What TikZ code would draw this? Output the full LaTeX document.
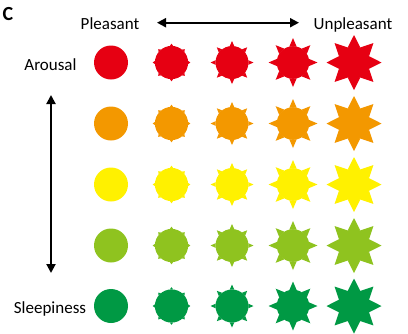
\documentclass[tikz,border=0pt]{standalone}
\usepackage{fontspec}
\setmainfont{Carlito}
\usetikzlibrary{arrows.meta}

\definecolor{moodred}{HTML}{E60012}
\definecolor{moodorange}{HTML}{F39800}
\definecolor{moodyellow}{HTML}{FFF100}
\definecolor{moodlime}{HTML}{8FC31F}
\definecolor{moodgreen}{HTML}{009944}

% spiky ball: #1 centre, #2 colour, #3 body radius, #4 spike tip radius, #5 spike half-angle
\newcommand\spikyball[5]{%
  \begin{scope}[shift={#1}]
    \fill[#2] (0,0) circle[radius=#3];
    \ifdim #4pt>#3pt
      \foreach \a in {0,45,...,315}
        \fill[#2] (\a-#5:#3) -- (\a:#4) -- (\a+#5:#3) -- cycle;
    \fi
  \end{scope}}

\tikzset{
  label text/.style={font=\fontsize{17}{20}\selectfont, anchor=base, inner sep=0pt},
  axis arrow/.style={line width=2pt, {Triangle[length=9pt,width=9pt]}-{Triangle[length=9pt,width=9pt]}},
}

\begin{document}
\begin{tikzpicture}[x=1pt,y=-1pt]
  \useasboundingbox (0,0) rectangle (408,333);

  \node[font=\fontsize{20}{24}\selectfont\bfseries, inner sep=0pt] (panel) at (8,14) {C};

  % axis labels
  \node[label text] (pleasant) at (110,29) {Pleasant};
  \node[label text] (unpleasant) at (353,29) {Unpleasant};
  \node[label text] (arousal) at (50.5,70) {Arousal};
  \node[label text] (sleepiness) at (50,313.5) {Sleepiness};

  % axis arrows
  \coordinate (hleft) at (157,22.7);
  \coordinate (hright) at (299,22.7);
  \coordinate (vtop) at (51,95);
  \coordinate (vbottom) at (51,273);
  \draw[axis arrow] (hleft) -- (hright);
  \draw[axis arrow] (vtop) -- (vbottom);

  % grid of balls: rows by arousal, columns by unpleasantness
  \foreach \col/\y in {moodred/62.5, moodorange/123.5, moodyellow/184.5, moodlime/245.5, moodgreen/306} {
    \spikyball{(111,\y)}{\col}{17}{17}{0}
    \spikyball{(171.5,\y)}{\col}{16.6}{18.8}{6}
    \spikyball{(232,\y)}{\col}{16.5}{21.5}{8}
    \spikyball{(293,\y)}{\col}{16.3}{24.5}{13}
    \spikyball{(354,\y)}{\col}{16.3}{27.5}{22.5}
  }
\end{tikzpicture}
\end{document}
